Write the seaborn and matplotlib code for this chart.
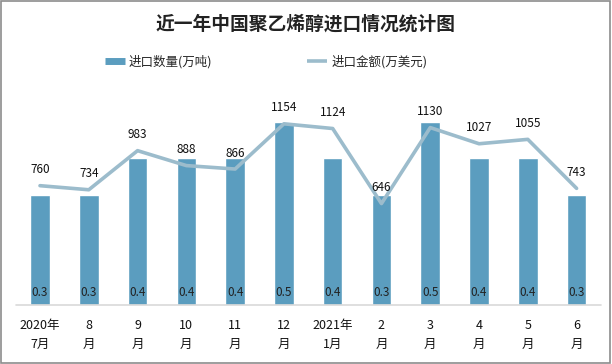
import numpy as np
import pandas as pd
import matplotlib
matplotlib.use("Agg")
import matplotlib.pyplot as plt
import seaborn as sns
from matplotlib.lines import Line2D
from matplotlib.patches import Rectangle

# data
months = ["2020年\n7月", "8\n月", "9\n月", "10\n月", "11\n月", "12\n月",
          "2021年\n1月", "2\n月", "3\n月", "4\n月", "5\n月", "6\n月"]
qty = [0.3, 0.3, 0.4, 0.4, 0.4, 0.5, 0.4, 0.3, 0.5, 0.4, 0.4, 0.3]
amount = [760, 734, 983, 888, 866, 1154, 1124, 646, 1130, 1027, 1055, 743]

bar_color = "#5b9dbf"
line_color = "#9cbccc"

sns.set_theme(style="white")
plt.rcParams["font.family"] = ["Noto Sans CJK SC", "DejaVu Sans"]

df = pd.DataFrame({"month": months, "qty": qty, "amount": amount})

fig = plt.figure(figsize=(6.12, 3.64), dpi=100)
ax = fig.add_axes([0.0255, 0.162, 0.9565, 0.604])

sns.barplot(data=df, x="month", y="qty", color=bar_color, width=0.4,
            saturation=1, ax=ax)
ax.set_ylim(0, 0.6)
ax.set_xlim(-0.5, 11.5)

for i, v in enumerate(qty):
    ax.text(i, 0.035, f"{v:.1f}", ha="center", va="center", fontsize=8.5,
            color="#222222")

ax2 = ax.twinx()
sns.lineplot(x=np.arange(len(amount)), y=amount, color=line_color,
             linewidth=2.6, ax=ax2)
ax2.set_ylim(0, 1400)
ax2.set_xlim(-0.5, 11.5)

for i, v in enumerate(amount):
    ax2.text(i, v + 60, str(v), ha="center", va="bottom", fontsize=8.5,
             color="#111111")

for a in (ax, ax2):
    a.set_ylabel("")
    a.set_xlabel("")
    a.set_yticks([])
    for s in ["top", "left", "right", "bottom"]:
        a.spines[s].set_visible(False)

ax.axhline(0, color="#d9d9d9", linewidth=1.2, clip_on=False)
ax.tick_params(axis="x", length=0, pad=10, labelsize=9, colors="#111111")
ax.set_xticks(range(len(months)))
ax.set_xticklabels(months, linespacing=1.6)

fig.text(0.5, 0.935, "近一年中国聚乙烯醇进口情况统计图", ha="center", va="center",
         fontsize=13.5, fontweight="bold", color="#222222")

handles = [Line2D([0], [0], color=bar_color, linewidth=5, solid_capstyle="butt"),
           Line2D([0], [0], color=line_color, linewidth=2.6, solid_capstyle="butt")]
fig.legend(handles, ["进口数量(万吨)", "进口金额(万美元)"], loc="center",
           bbox_to_anchor=(0.435, 0.83), ncol=2, frameon=False, fontsize=9,
           handlelength=1.6, handletextpad=0.3, columnspacing=7.6)

fig.patches.append(Rectangle((0.002, 0.003), 0.995, 0.994,
                             transform=fig.transFigure, fill=False,
                             edgecolor="#8c8c8c", linewidth=1.2))

fig.savefig("out.png", dpi=100)
